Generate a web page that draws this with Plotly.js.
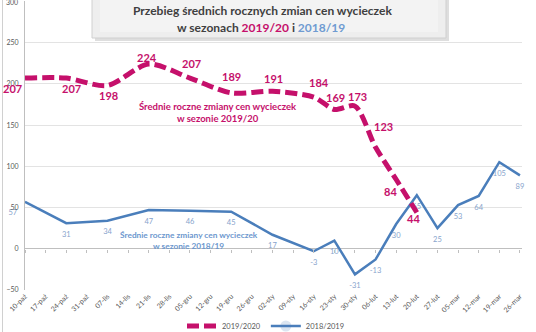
<!DOCTYPE html>
<html><head><meta charset="utf-8">
<script src="https://cdn.plot.ly/plotly-3.0.1.min.js"></script>
<style>html,body{margin:0;padding:0;background:#fff}#chart{width:536px;height:332px}</style>
</head><body><div id="chart"></div>
<script>
// ---- data ----
const weeks = ['10-paź','17-paź','24-paź','31-paź','07-lis','14-lis','21-lis','28-lis','05-gru','12-gru','19-gru','26-gru','02-sty','09-sty','16-sty','23-sty','30-sty','06-lut','13-lut','20-lut','27-lut','05-mar','12-mar','19-mar','26-mar'];
const season2019 = [207,null,207,null,198,null,224,null,207,null,189,null,191,null,184,169,173,123,84,44,null,null,null,null,null];
const season2018 = [57,null,31,null,34,null,47,null,46,null,45,null,17,null,-3,10,-31,-13,30,65,25,53,64,105,89];
const seriesNames = ['2019/2020','2018/2019'];
const yTicks = [-50,0,50,100,150,200,250,300];

// ---- style ----
const PINK = '#C5106B', BLUE = '#4A7EBB', BLUE_LBL = '#86A3CC', BLUE_TXT = '#6C97CE', GREY = '#595959';
const FONT = 'Lato, "Open Sans", sans-serif';
const L = 25, R = 14, T = 1, B = 42, W = 536, H = 332;
const pw = W - L - R, ph = H - T - B;
const px = p => (p - L) / pw;            // pixel -> paper x
const py = p => (H - B - p) / ph;        // pixel -> paper y

// label offsets for 2019/20 labels [dx, dy] in px
const pinkShift = {0:[-13,10],2:[5,10],4:[1,10],6:[-2,-7],8:[2,-15],10:[0,-16],12:[1,-13],14:[5,-15],15:[1,-12],16:[3,-10],17:[8,-21],18:[-6,12],19:[-3,6]};

const blueText = season2018.map(v => v === null ? '' : String(v));
const bluePos = season2018.map((v, i) => i === 0 ? 'bottom left' : 'bottom center');

const traces = [
  {
    x: weeks, y: season2018, name: seriesNames[1], type: 'scatter',
    mode: 'lines+markers+text', connectgaps: true,
    line: {color: BLUE, width: 2.5},
    marker: {size: 11, opacity: 0, color: BLUE},
    text: blueText, textposition: bluePos, cliponaxis: false,
    textfont: {family: FONT, size: 7.5, color: BLUE_LBL},
    hoverinfo: 'skip'
  },
  {
    x: weeks, y: season2019, name: seriesNames[0], type: 'scatter',
    mode: 'lines', connectgaps: true,
    line: {color: PINK, width: 5, dash: '12px,5px', shape: 'spline', smoothing: 0.8},
    hoverinfo: 'skip'
  },
  {
    x: weeks.map((w, i) => i), y: weeks.map(() => null), xaxis: 'x2', yaxis: 'y',
    type: 'scatter', mode: 'lines', showlegend: false, hoverinfo: 'skip'
  }
];

const annotations = [];
season2019.forEach((v, i) => {
  if (v === null) return;
  const s = pinkShift[i] || [0, -12];
  annotations.push({x: weeks[i], y: v, xref: 'x', yref: 'y', text: String(v), showarrow: false,
    xanchor: 'center', yanchor: 'middle',
    xshift: s[0], yshift: -s[1], font: {family: FONT, size: 11, color: PINK, weight: 'bold'}});
});
annotations.push(
  {xref: 'paper', yref: 'paper', x: px(218), y: py(112.5), xanchor: 'center', yanchor: 'middle',
   text: 'Średnie roczne zmiany cen wycieczek<br>w sezonie 2019/20',
   showarrow: false, font: {family: FONT, size: 9.5, color: PINK, weight: 'bold'}, align: 'center'},
  {xref: 'paper', yref: 'paper', x: px(189), y: py(240), xanchor: 'center', yanchor: 'middle',
   text: 'Średnie roczne zmiany cen wycieczek<br>w sezonie 2018/19',
   showarrow: false, font: {family: FONT, size: 8.3, color: BLUE_TXT, weight: 'bold'}, align: 'center'},
  {xref: 'paper', yref: 'paper', x: px(262), y: py(10), xanchor: 'center', yanchor: 'middle',
   text: 'Przebieg średnich rocznych zmian cen wycieczek',
   showarrow: false, font: {family: FONT, size: 12, color: '#404040', weight: 'bold'}},
  {xref: 'paper', yref: 'paper', x: px(261), y: py(27), xanchor: 'center', yanchor: 'middle',
   text: 'w sezonach <span style="color:' + PINK + '">2019/20</span> i <span style="color:#6F9BD1">2018/19</span>',
   showarrow: false, font: {family: FONT, size: 12, color: '#404040', weight: 'bold'}},
  {xref: 'paper', yref: 'paper', x: px(20), y: py(1.5), xanchor: 'right', yanchor: 'middle',
   text: String(yTicks[yTicks.length - 1]), showarrow: false, font: {family: FONT, size: 7, color: GREY}}
);

const shapes = [
  {type: 'rect', xref: 'paper', yref: 'paper', x0: px(95), x1: px(449), y0: py(41), y1: py(-10),
   fillcolor: 'rgba(0,0,0,0.13)', line: {width: 0}, layer: 'above'},
  {type: 'rect', xref: 'paper', yref: 'paper', x0: px(92), x1: px(446), y0: py(38), y1: py(-10),
   fillcolor: '#EEEEEE', line: {color: '#D0D0D0', width: 1}, layer: 'above'},
  {type: 'rect', xref: 'paper', yref: 'paper', x0: px(100), x1: px(438), y0: py(32), y1: py(-10),
   fillcolor: '#F3F3F3', line: {width: 0}, layer: 'above'},
  {type: 'line', xref: 'paper', yref: 'paper', x0: px(2.5), x1: px(2.5), y0: py(340), y1: py(-5),
   line: {color: '#D0D0D0', width: 1}, layer: 'below'}
];

const layout = {
  width: W, height: H, margin: {l: L, r: R, t: T, b: B, autoexpand: false},
  paper_bgcolor: '#fff', plot_bgcolor: '#fff',
  font: {family: FONT, color: GREY},
  showlegend: true,
  legend: {orientation: 'h', x: px(266), xanchor: 'center', yref: 'container', y: 1 - 326 / H, yanchor: 'middle',
           font: {family: FONT, size: 7.5, color: GREY}, traceorder: 'reversed', bgcolor: 'rgba(0,0,0,0)'},
  xaxis: {type: 'category', range: [0, 24.1], tickangle: -45, tickfont: {family: FONT, size: 7, color: GREY},
          showgrid: false, zeroline: false, showline: false, ticks: '', fixedrange: true},
  xaxis2: {overlaying: 'x', anchor: 'free', position: 50 / 350, range: [0, 24.1],
           tickvals: weeks.map((w, i) => i), ticks: 'outside', ticklen: 3, tickcolor: '#BFBFBF',
           showticklabels: false, showgrid: false, zeroline: false, showline: false},
  yaxis: {range: [-50, 300.5], tickvals: yTicks, tickfont: {family: FONT, size: 7, color: GREY},
          gridcolor: '#E3E3E3', gridwidth: 1, zeroline: true, zerolinecolor: '#BFBFBF', zerolinewidth: 1,
          showline: true, linecolor: '#BFBFBF', linewidth: 1, ticklabelstandoff: 4},
  annotations: annotations, shapes: shapes
};

Plotly.newPlot('chart', traces, layout, {displayModeBar: false, staticPlot: true});
</script></body></html>
